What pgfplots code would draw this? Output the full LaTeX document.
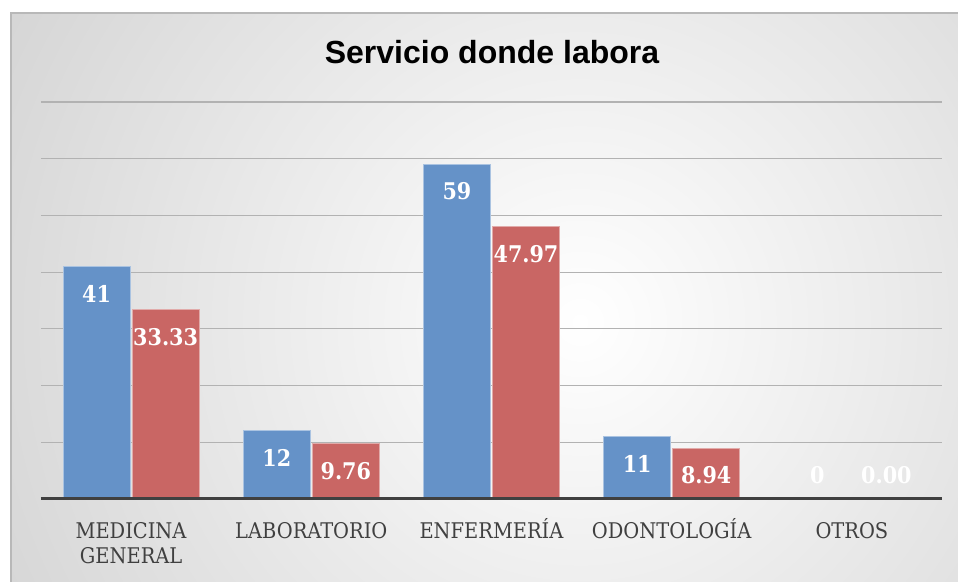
\documentclass[border=0pt]{standalone}
\usepackage{fontspec}
\setmainfont{DejaVu Serif Condensed}
\newfontfamily\titlefont{Liberation Sans}
\usepackage{pgfplots}
\pgfplotsset{compat=1.18}

\definecolor{barblue}{RGB}{101,146,200}
\definecolor{barred}{RGB}{201,102,100}
\definecolor{labgray}{RGB}{64,64,64}
\newcommand{\lh}{\rule{0pt}{10pt}}

\begin{document}
\begin{tikzpicture}
\useasboundingbox (0,0) rectangle (479pt,291pt);
% chart area background with radial gradient
\begin{scope}
  \clip (5.5pt,0) rectangle (479pt,284.5pt);
  \shade[inner color=white, outer color=black!30] (290pt,130pt) circle (600pt);
\end{scope}
\draw[black!28, line width=0.6pt] (5.5pt,0) -- (5.5pt,284.5pt) -- (479pt,284.5pt);
\node[font=\titlefont\bfseries\fontsize{16}{19}\selectfont] at (246pt,265pt) {Servicio donde labora};

\begin{axis}[
    at={(20.5pt,41.5pt)}, anchor=south west,
    scale only axis, width=450.5pt, height=198.5pt,
    ybar=1pt, bar width=33.5pt,
    xmin=-0.5, xmax=4.5, ymin=0, ymax=70,
    xtick={0,1,2,3,4},
    xticklabels={\lh MEDICINA\\GENERAL, \lh LABORATORIO, \lh ENFERMERÍA, \lh ODONTOLOGÍA, \lh OTROS},
    xticklabel style={align=center, text=labgray, font=\fontsize{10.8}{12.8}\selectfont, yshift=-6pt},
    ytick={10,20,...,70}, yticklabels={},
    major tick length=0pt,
    ymajorgrids, grid style={black!30, line width=0.6pt},
    axis line style={draw=none},
    clip=false,
    nodes near coords,
    visualization depends on={rawy \as \rawy},
    every node near coord/.append style={font=\bfseries\fontsize{11.5}{13}\selectfont, text=white,
        anchor=center, yshift={ifthenelse(\rawy==0,12,-13.5)*1pt}},
]
\addplot[fill=barblue, draw=barblue!55!white, line width=0.5pt,
    nodes near coords={\pgfmathprintnumber[fixed,precision=0,assume math mode=true]{\pgfplotspointmeta}}]
    coordinates {(0,41) (1,12) (2,59) (3,11) (4,0)};
\addplot[fill=barred, draw=barred!55!white, line width=0.5pt,
    nodes near coords={\pgfmathprintnumber[fixed,fixed zerofill,precision=2,assume math mode=true]{\pgfplotspointmeta}}]
    coordinates {(0,33.33) (1,9.76) (2,47.97) (3,8.94) (4,0)};
\draw[labgray, line width=1.5pt] (rel axis cs:0,0) -- (rel axis cs:1,0);
\end{axis}
\end{tikzpicture}
\end{document}
